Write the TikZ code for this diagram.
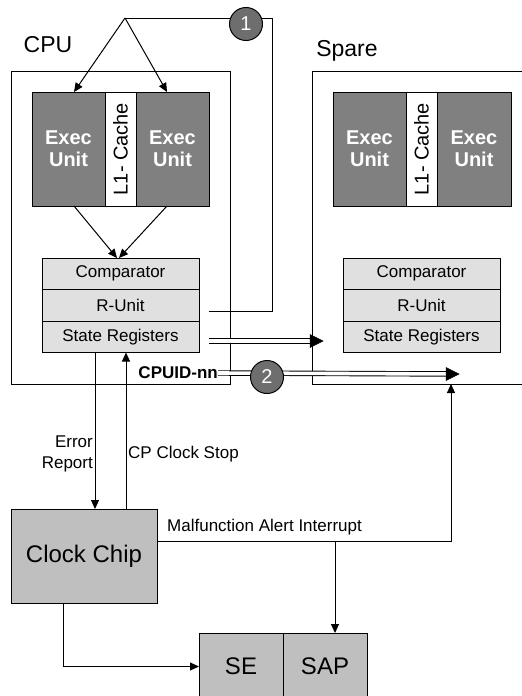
\documentclass[tikz,border=0pt]{standalone}
\usepackage{fontspec}
\setmainfont{Liberation Sans}
\usetikzlibrary{arrows.meta,calc}

\definecolor{execgray}{gray}{0.5}
\definecolor{regfill}{gray}{0.88}
\definecolor{chipfill}{gray}{0.75}
\definecolor{markfill}{gray}{0.43}

\tikzset{
  box/.style={draw=black, line width=1pt, inner sep=0pt, outer sep=0pt},
  execbox/.style={box, fill=execgray, text=white, align=center,
    font=\fontsize{20}{22}\selectfont\bfseries, minimum width=73pt, minimum height=114pt},
  cachebox/.style={box, fill=white, minimum width=31pt, minimum height=114pt},
  regbox/.style={box, fill=regfill, minimum width=157pt, minimum height=31.5pt,
    font=\fontsize{17}{20}\selectfont},
  chipbox/.style={box, fill=chipfill, font=\fontsize{24}{28}\selectfont},
  title/.style={inner sep=0pt, font=\fontsize{23}{27}\selectfont},
  lbl/.style={inner sep=0pt, font=\fontsize{17}{21}\selectfont},
  marker/.style={circle, draw=black, line width=1pt, fill=markfill, text=white,
    minimum size=33pt, inner sep=0pt, font=\fontsize{20}{22}\selectfont},
  wire/.style={line width=1pt},
  arr/.style={wire, -{Triangle[length=9pt,width=8pt]}},
  busline/.style={line width=0.9pt, double, double distance=3.6pt, shorten >=12pt},
  bustip/.style={fill=black, draw=black, line width=0.5pt, line join=miter},
}

\begin{document}
\begin{tikzpicture}[x=1pt, y=-1pt]
\useasboundingbox (0,0) rectangle (522,696);

% ---- outer frames ----
\node[box, minimum width=219pt, minimum height=313pt] (cpu) at (120.5,227.5) {};
\draw[wire] (523,71) -- (312,71) -- (312,384) -- (523,384);

\node[title] (cpulbl) at (48,45) {CPU};
\node[title] (sparelbl) at (347,51) {Spare};

% ---- CPU internals ----
\node[execbox] (ceL) at (68.5,149) {Exec\\Unit};
\node[cachebox] (ccache) at (120.5,149) {};
\node[rotate=90, inner sep=0pt, font=\fontsize{20}{22}\selectfont] (ccachet) at (120.5,149) {L1- Cache};
\node[execbox] (ceR) at (172.5,149) {Exec\\Unit};

\node[regbox] (ccmp) at (120.5,273.75) {Comparator};
\node[regbox] (cru)  at (120.5,305.25) {R-Unit};
\node[regbox] (csr)  at (120.5,336.75) {State Registers};

% ---- Spare internals ----
\node[execbox] (seL) at (369.5,149) {Exec\\Unit};
\node[cachebox] (scache) at (421.5,149) {};
\node[rotate=90, inner sep=0pt, font=\fontsize{20}{22}\selectfont] (scachet) at (421.5,149) {L1- Cache};
\node[execbox, minimum width=74pt] (seR) at (474,149) {Exec\\Unit};

\node[regbox] (scmp) at (421.5,273.75) {Comparator};
\node[regbox] (sru)  at (421.5,305.25) {R-Unit};
\node[regbox] (ssr)  at (421.5,336.75) {State Registers};

% ---- lower blocks ----
\node[chipbox, minimum width=146pt, minimum height=94pt] (clk) at (84,556) {Clock Chip};
\node[chipbox, minimum width=84pt, minimum height=67pt] (se)  at (241,666.5) {SE};
\node[chipbox, minimum width=84pt, minimum height=67pt] (sap) at (325,666.5) {SAP};

% ---- routing points ----
\coordinate (apex) at (125,18);
\coordinate (loopc) at (272,18);
\coordinate (ruout) at (209,311);
\coordinate (srout) at (209,341);
\coordinate (srin) at (323,341);
\coordinate (idend) at (459,374);
\coordinate (errx) at (95,0);
\coordinate (stopx) at (126,0);
\coordinate (malf) at (157,541);
\coordinate (malfR) at (451,541);
\coordinate (malfT) at (451,384);
\coordinate (sapx) at (335,541);
\coordinate (clkout) at (63,603);
\coordinate (seturn) at (63,666.5);

% ---- feedback loop (1) ----
\draw[wire] (ruout) -| (loopc) -- (apex);
\draw[arr] (apex) -- ($(ceL.north)+(5.5,0)$);
\draw[arr] (apex) -- ($(ceR.north)+(-5.5,0)$);
\node[marker] (m1) at (246,24) {1};

% ---- exec units to comparator ----
\draw[arr] ($(ceL.south)+(5.5,0)$) -- ($(ccmp.north)+(-3.5,0)$);
\draw[arr] ($(ceR.south)+(-5.5,0)$) -- ($(ccmp.north)+(-1.5,0)$);

% ---- state transfer buses ----
\draw[busline] (srout) -- (srin);
\draw[bustip] (srin) -- ++(-13,-6.5) -- ++(0,13) -- cycle;
\node[inner sep=0pt, anchor=east, font=\fontsize{17}{20}\selectfont\bfseries] (cpuid) at (218,373) {CPUID-nn};
\draw[busline] (cpuid.east) -- (idend);
\draw[bustip] (idend) -- ++(-13,-6.5) -- ++(0,13) -- cycle;
\node[marker] (m2) at (267,377) {2};

% ---- CPU <-> clock chip ----
\draw[arr] (csr.south -| errx) -- (clk.north -| errx);
\draw[arr] (clk.north -| stopx) -- (csr.south -| stopx);
\node[lbl, anchor=east, align=right] (errlbl) at (93,453.5) {Error\\Report};
\node[lbl, anchor=west] (stoplbl) at (128,454) {CP Clock Stop};

% ---- malfunction alert ----
\draw[arr] (malf) -- (malfR) -- (malfT);
\draw[arr] (sapx) -- (sap.north -| sapx);
\node[lbl, anchor=west] (malflbl) at (167,527) {Malfunction Alert Interrupt};

% ---- clock chip to SE ----
\draw[arr] (clkout) -- (seturn) -- (se.west);

\end{tikzpicture}
\end{document}
